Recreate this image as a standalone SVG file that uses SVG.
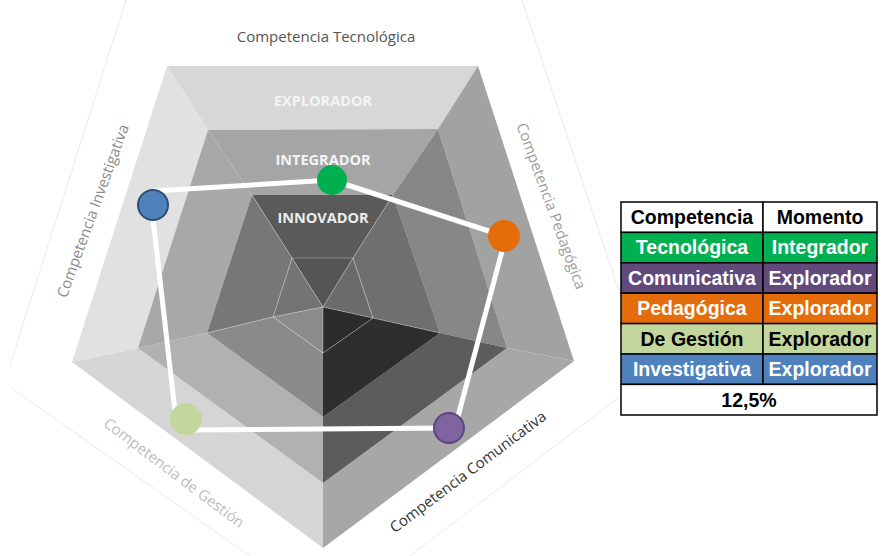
<svg xmlns="http://www.w3.org/2000/svg" width="883" height="556" viewBox="0 0 883 556">
<style>
.axis{font-family:"Open Sans","DejaVu Sans",sans-serif;font-size:15px;text-anchor:middle}
.lvl{font-family:"Open Sans","DejaVu Sans",sans-serif;font-size:14.5px;font-weight:bold;text-anchor:middle}
.frame{stroke:#ebebeb;stroke-width:1;fill:none}
.crease{stroke:#ffffff;stroke-opacity:0.3;stroke-width:1;fill:none}
.conn{stroke:#ffffff;stroke-width:5;fill:none}
.cell{stroke:#000;stroke-width:1.5}
.tt{font-family:"Liberation Sans",Arial,sans-serif;font-size:19.5px;font-weight:bold;text-anchor:middle}
</style>
<rect width="883" height="556" fill="#ffffff"/>
<g id="frame">
<line class="frame" x1="126" y1="0" x2="10" y2="365"/>
<line class="frame" x1="10" y1="387" x2="250" y2="556"/>
<line class="frame" x1="522" y1="0" x2="622" y2="300"/>
<line class="frame" x1="622" y1="395" x2="410" y2="556"/>
</g>
<g id="pyramid">
<polygon points="167,66 478,66 438,129 208,130" fill="#d7d7d7"/>
<polygon points="478,66 574,361 507,348 438,129" fill="#a2a2a2"/>
<polygon points="574,361 323,548 323,483 507,348" fill="#a7a7a7"/>
<polygon points="323,548 72,362 138,348 323,483" fill="#d5d5d5"/>
<polygon points="72,362 167,66 208,130 138,348" fill="#e1e1e1"/>
<polygon points="208,130 438,129 393,195 252,195" fill="#a5a5a5"/>
<polygon points="438,129 507,348 440,333 393,195" fill="#878787"/>
<polygon points="507,348 323,483 323,417 440,333" fill="#5c5c5c"/>
<polygon points="323,483 138,348 207,333 323,417" fill="#b1b1b1"/>
<polygon points="138,348 208,130 252,195 207,333" fill="#a8a8a8"/>
<polygon points="252,195 393,195 353,258 292,258" fill="#5a5a5a"/>
<polygon points="393,195 440,333 373,318 353,258" fill="#6f6f6f"/>
<polygon points="440,333 323,417 323,353 373,318" fill="#2e2e2e"/>
<polygon points="323,417 207,333 273,317 323,353" fill="#8a8a8a"/>
<polygon points="207,333 252,195 292,258 273,317" fill="#777777"/>
<polygon points="292,258 353,258 323,307" fill="#555555"/>
<polygon points="353,258 373,318 323,307" fill="#6b6b6b"/>
<polygon points="373,318 323,353 323,307" fill="#2b2b2b"/>
<polygon points="323,353 273,317 323,307" fill="#8b8b8b"/>
<polygon points="273,317 292,258 323,307" fill="#747474"/>
<polygon class="crease" points="292,258 353,258 373,318 323,353 273,317"/>
<polyline class="crease" points="292,258 323,307 353,258"/>
<polyline class="crease" points="273,317 323,307 373,318"/>
<line class="crease" x1="323" y1="307" x2="323" y2="353"/>
<line class="crease" x1="252" y1="195" x2="292" y2="258"/>
<line class="crease" x1="393" y1="195" x2="353" y2="258"/>
<line class="crease" x1="440" y1="333" x2="373" y2="318"/>
<line class="crease" x1="207" y1="333" x2="273" y2="317"/>
</g>
<g id="levels">
<text class="lvl" x="323" y="106" fill="#f4f4f4">EXPLORADOR</text>
<text class="lvl" x="323" y="165" fill="#f4f4f4">INTEGRADOR</text>
<text class="lvl" x="323" y="223" fill="#ececec">INNOVADOR</text>
</g>
<g id="axis-labels">
<text class="axis" x="326" y="42" fill="#555555">Competencia Tecnológica</text>
<text class="axis" transform="translate(551,206) rotate(70)" y="5" fill="#9c9c9c">Competencia Pedagógica</text>
<text class="axis" transform="translate(93,211) rotate(-70)" y="5" fill="#8a8a8a">Competencia Investigativa</text>
<text class="axis" transform="translate(174,473) rotate(37)" y="5" fill="#bdbdbd">Competencia de Gestión</text>
<text class="axis" transform="translate(468,472) rotate(-37)" y="5" fill="#333333">Competencia Comunicativa</text>
</g>
<g id="connectors">
<line class="conn" x1="154" y1="191" x2="332" y2="180"/>
<line class="conn" x1="332" y1="180" x2="504" y2="236"/>
<line class="conn" x1="505" y1="240" x2="456" y2="424"/>
<line class="conn" x1="449" y1="428" x2="185" y2="430"/>
<line class="conn" x1="176" y1="420" x2="152" y2="210"/>
</g>
<g id="node-tecnologica"><circle cx="332" cy="180" r="15" fill="#00b050"/></g>
<g id="node-pedagogica"><circle cx="504" cy="236" r="16" fill="#e46c0a"/></g>
<g id="node-comunicativa"><circle cx="449" cy="428" r="15" fill="#8064a2" stroke="#5c4580" stroke-width="2"/></g>
<g id="node-gestion"><circle cx="186" cy="419" r="16" fill="#c3d69b"/></g>
<g id="node-investigativa"><circle cx="153" cy="205" r="15" fill="#4f81bd" stroke="#2c4d75" stroke-width="2"/></g>
<g id="table">
<rect class="cell" x="621" y="202" width="142" height="30.4" fill="#ffffff"/>
<rect class="cell" x="763" y="202" width="114" height="30.4" fill="#ffffff"/>
<rect class="cell" x="621" y="232.4" width="142" height="30.4" fill="#00b050"/>
<rect class="cell" x="763" y="232.4" width="114" height="30.4" fill="#00b050"/>
<rect class="cell" x="621" y="262.8" width="142" height="30.4" fill="#604a7b"/>
<rect class="cell" x="763" y="262.8" width="114" height="30.4" fill="#604a7b"/>
<rect class="cell" x="621" y="293.2" width="142" height="30.4" fill="#e46c0a"/>
<rect class="cell" x="763" y="293.2" width="114" height="30.4" fill="#e46c0a"/>
<rect class="cell" x="621" y="323.6" width="142" height="30.4" fill="#c3d69b"/>
<rect class="cell" x="763" y="323.6" width="114" height="30.4" fill="#c3d69b"/>
<rect class="cell" x="621" y="354" width="142" height="30.4" fill="#4f81bd"/>
<rect class="cell" x="763" y="354" width="114" height="30.4" fill="#4f81bd"/>
<rect class="cell" x="621" y="384.4" width="256" height="30.6" fill="#ffffff"/>
<text class="tt" x="692" y="224" fill="#000">Competencia</text>
<text class="tt" x="820" y="224" fill="#000">Momento</text>
<text class="tt" x="692" y="254.4" fill="#fff">Tecnológica</text>
<text class="tt" x="820" y="254.4" fill="#fff">Integrador</text>
<text class="tt" x="692" y="284.8" fill="#fff">Comunicativa</text>
<text class="tt" x="820" y="284.8" fill="#fff">Explorador</text>
<text class="tt" x="692" y="315.2" fill="#fff">Pedagógica</text>
<text class="tt" x="820" y="315.2" fill="#fff">Explorador</text>
<text class="tt" x="692" y="345.6" fill="#000">De Gestión</text>
<text class="tt" x="820" y="345.6" fill="#000">Explorador</text>
<text class="tt" x="692" y="376" fill="#fff">Investigativa</text>
<text class="tt" x="820" y="376" fill="#fff">Explorador</text>
<text class="tt" x="749" y="406.5" fill="#000">12,5%</text>
</g>
</svg>
